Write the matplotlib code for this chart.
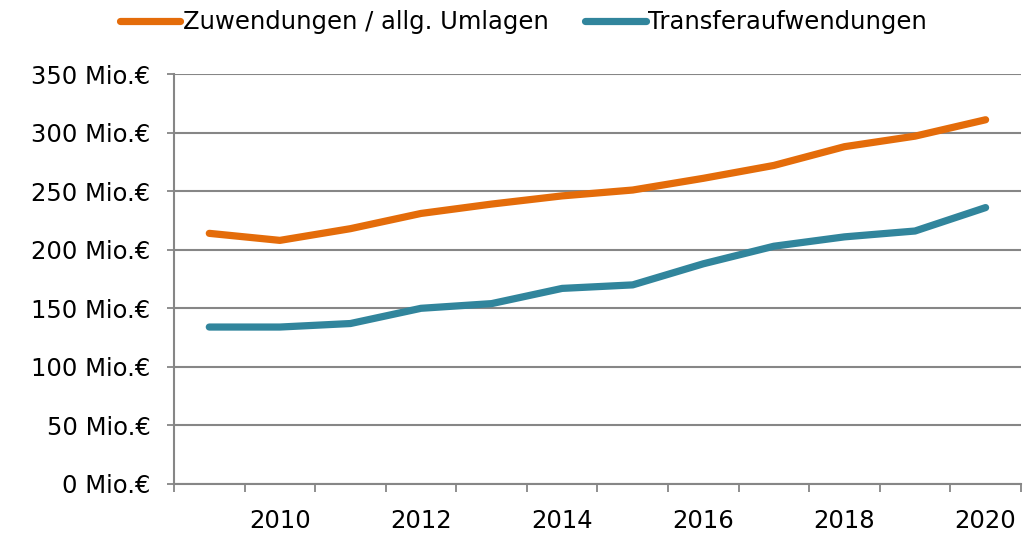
import numpy as np
import matplotlib.pyplot as plt

# values [Mio. EUR]
years = [2009, 2010, 2011, 2012, 2013, 2014, 2015, 2016, 2017, 2018, 2019, 2020]
zuwendungen = [214, 208, 218, 231, 239, 246, 251, 261, 272, 288, 297, 311]
transfer = [134, 134, 137, 150, 154, 167, 170, 188, 203, 211, 216, 236]
label_years = [2010, 2012, 2014, 2016, 2018, 2020]
yticks = [0, 50, 100, 150, 200, 250, 300, 350]

orange = '#E46C0A'
blue = '#31859C'
grey = '#868686'
fs = 17.5

plt.rcParams['font.family'] = ['DejaVu Sans']
fig = plt.figure(figsize=(10.26, 5.33), dpi=100)
ax = fig.add_axes([0.1696, 0.092, 0.8254, 0.769])

x = np.arange(len(years))
ax.plot(x, zuwendungen, color=orange, lw=5.2, solid_capstyle='round',
        solid_joinstyle='round', label='Zuwendungen / allg. Umlagen', zorder=3)
ax.plot(x, transfer, color=blue, lw=5.2, solid_capstyle='round',
        solid_joinstyle='round', label='Transferaufwendungen', zorder=3)

ax.set_xlim(-0.5, len(years) - 0.5)
ax.set_ylim(0, 350)

# category boundaries as tick marks, year labels in the middle
ax.set_xticks(np.arange(len(years) + 1) - 0.5)
ax.set_xticklabels([])
ax.set_xticks([years.index(y) for y in label_years], minor=True)
ax.set_xticklabels([str(y) for y in label_years], minor=True, fontsize=fs)
ax.tick_params(axis='x', which='major', length=6, width=1.3, color=grey)
ax.tick_params(axis='x', which='minor', length=0, pad=18)

ax.set_yticks(yticks)
ax.set_yticklabels([f'{v} Mio.€' for v in yticks], fontsize=fs)
ax.tick_params(axis='y', length=5, width=1.3, color=grey, pad=12)

ax.grid(axis='y', color=grey, lw=1.5, zorder=1)
ax.set_axisbelow(True)
for s in ['top', 'right']:
    ax.spines[s].set_visible(False)
for s in ['left', 'bottom']:
    ax.spines[s].set_color(grey)
    ax.spines[s].set_linewidth(1.5)

fig.legend(loc='center', bbox_to_anchor=(0.51, 0.958), ncol=2, frameon=False,
           fontsize=fs, handlelength=2.5, handletextpad=0.1, columnspacing=1.5)

fig.savefig('out.png', dpi=100)
